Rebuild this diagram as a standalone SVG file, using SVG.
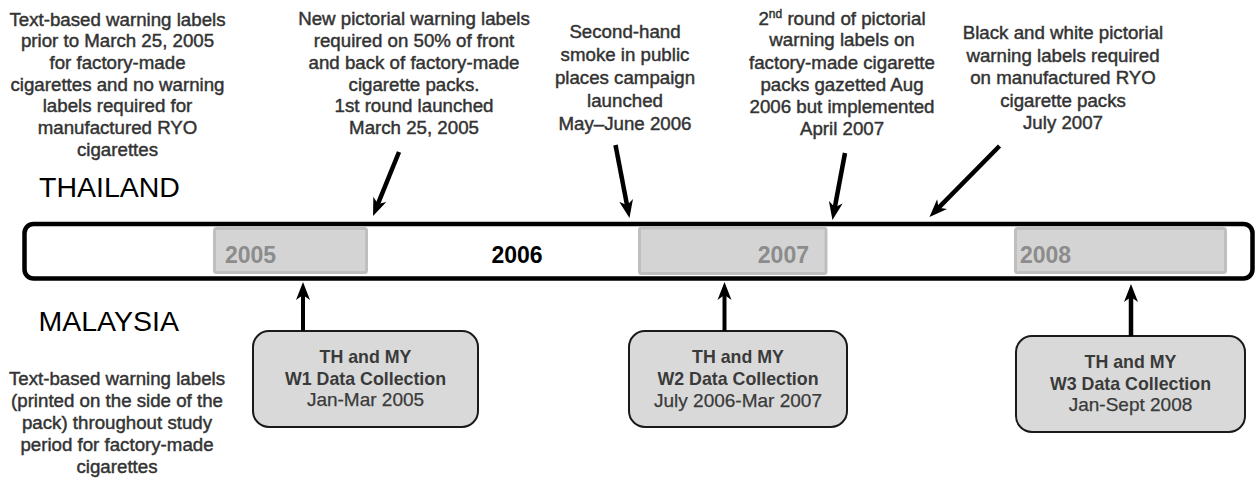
<svg xmlns="http://www.w3.org/2000/svg" width="1255" height="481" viewBox="0 0 1255 481">
<style>
.lbl{font-family:"Liberation Sans",Arial,sans-serif;font-size:18.7px;fill:#333;text-anchor:middle;stroke:#333;stroke-width:0.45}
.country{font-family:"Liberation Sans",Arial,sans-serif;font-size:28.5px;fill:#000}
.yr{font-family:"Liberation Sans",Arial,sans-serif;font-size:23px;font-weight:bold;fill:#8c8c8c}
.yrbox{fill:#d4d4d4;stroke:#bfbfbf;stroke-width:3}
.dbox{fill:#d9d9d9;stroke:#1a1a1a;stroke-width:2}
.bt{font-family:"Liberation Sans",Arial,sans-serif;font-size:17.8px;font-weight:bold;fill:#3a3a3a;text-anchor:middle}
.rt{font-family:"Liberation Sans",Arial,sans-serif;font-size:19px;fill:#3a3a3a;text-anchor:middle;stroke:#3a3a3a;stroke-width:0.25}
.arr{stroke:#000;stroke-width:4.5;fill:none;marker-end:url(#ah)}
</style>
<defs>
<marker id="ah" markerUnits="userSpaceOnUse" markerWidth="20" markerHeight="16" refX="8" refY="8" orient="auto" overflow="visible">
<path d="M0,1 L18,8 L0,15 L5,8 Z" fill="#000"/>
</marker>
</defs>

<g id="timeline">
<rect x="24.5" y="224" width="1228" height="54.5" rx="9" fill="#fff" stroke="#000" stroke-width="4.5"/>
</g>
<g id="y2005"><rect class="yrbox" x="214.5" y="228.5" width="152" height="44" rx="2"/><text class="yr" x="225" y="262.5">2005</text></g>
<g id="y2006"><text class="yr" x="517" y="263" text-anchor="middle" style="fill:#000">2006</text></g>
<g id="y2007"><rect class="yrbox" x="639.5" y="228" width="186.5" height="45.5" rx="2"/><text class="yr" x="809" y="263" text-anchor="end">2007</text></g>
<g id="y2008"><rect class="yrbox" x="1015.5" y="228.5" width="210" height="44" rx="2"/><text class="yr" x="1020" y="262.5">2008</text></g>

<g id="thailand"><text class="country" x="39" y="196.5">THAILAND</text></g>
<g id="malaysia"><text class="country" x="38.5" y="331">MALAYSIA</text></g>

<g id="note-th-text">
<text class="lbl" x="117.5" y="25.5">Text-based warning labels</text>
<text class="lbl" x="117.5" y="47">prior to March 25, 2005</text>
<text class="lbl" x="117.5" y="69">for factory-made</text>
<text class="lbl" x="117.5" y="90.5">cigarettes and no warning</text>
<text class="lbl" x="117.5" y="112">labels required for</text>
<text class="lbl" x="117.5" y="134">manufactured RYO</text>
<text class="lbl" x="117.5" y="155.5">cigarettes</text>
</g>
<g id="note-pictorial1">
<text class="lbl" x="414" y="25">New pictorial warning labels</text>
<text class="lbl" x="414" y="47">required on 50% of front</text>
<text class="lbl" x="414" y="69">and back of factory-made</text>
<text class="lbl" x="414" y="90.5">cigarette packs.</text>
<text class="lbl" x="414" y="112">1st round launched</text>
<text class="lbl" x="414" y="134">March 25, 2005</text>
</g>
<g id="note-smoke">
<text class="lbl" x="625" y="37.5">Second-hand</text>
<text class="lbl" x="625" y="60.5">smoke in public</text>
<text class="lbl" x="625" y="83.5">places campaign</text>
<text class="lbl" x="625" y="106.5">launched</text>
<text class="lbl" x="625" y="129.5">May–June 2006</text>
</g>
<g id="note-pictorial2">
<text class="lbl" x="842" y="24.5">2<tspan font-size="12" dy="-7">nd</tspan><tspan dy="7"> round of pictorial</tspan></text>
<text class="lbl" x="842" y="46">warning labels on</text>
<text class="lbl" x="842" y="68.5">factory-made cigarette</text>
<text class="lbl" x="842" y="90.5">packs gazetted Aug</text>
<text class="lbl" x="842" y="112.5">2006 but implemented</text>
<text class="lbl" x="842" y="134.5">April 2007</text>
</g>
<g id="note-ryo">
<text class="lbl" x="1063" y="39">Black and white pictorial</text>
<text class="lbl" x="1063" y="61.5">warning labels required</text>
<text class="lbl" x="1063" y="84">on manufactured RYO</text>
<text class="lbl" x="1063" y="106.5">cigarette packs</text>
<text class="lbl" x="1063" y="129">July 2007</text>
</g>
<g id="note-my-text">
<text class="lbl" x="117" y="385">Text-based warning labels</text>
<text class="lbl" x="117" y="407">(printed on the side of the</text>
<text class="lbl" x="117" y="429">pack) throughout study</text>
<text class="lbl" x="117" y="451">period for factory-made</text>
<text class="lbl" x="117" y="473">cigarettes</text>
</g>

<g id="w1">
<rect class="dbox" x="253" y="331" width="225" height="96" rx="16"/>
<text class="bt" x="365.5" y="362.5">TH and MY</text>
<text class="bt" x="365.5" y="384.5">W1 Data Collection</text>
<text class="rt" x="365.5" y="406">Jan-Mar 2005</text>
</g>
<g id="w2">
<rect class="dbox" x="629" y="331" width="218" height="96" rx="16"/>
<text class="bt" x="738" y="363">TH and MY</text>
<text class="bt" x="738" y="385">W2 Data Collection</text>
<text class="rt" x="738" y="406.5">July 2006-Mar 2007</text>
</g>
<g id="w3">
<rect class="dbox" x="1016" y="336" width="229" height="96" rx="16"/>
<text class="bt" x="1130.5" y="367.5">TH and MY</text>
<text class="bt" x="1130.5" y="389.5">W3 Data Collection</text>
<text class="rt" x="1130.5" y="411">Jan-Sept 2008</text>
</g>

<g id="connectors">
<line class="arr" x1="399" y1="152" x2="376.8" y2="206.7"/>
<line class="arr" x1="615.5" y1="145" x2="627.6" y2="208.2"/>
<line class="arr" x1="845" y1="153" x2="834.3" y2="210.2"/>
<line class="arr" x1="999.5" y1="146" x2="936.5" y2="209.9"/>
<line class="arr" x1="303" y1="331" x2="303" y2="292" style="stroke-width:4"/>
<line class="arr" x1="724.5" y1="331" x2="724.5" y2="292" style="stroke-width:4"/>
<line class="arr" x1="1131" y1="336" x2="1131" y2="294" style="stroke-width:4.5"/>
</g>
</svg>
